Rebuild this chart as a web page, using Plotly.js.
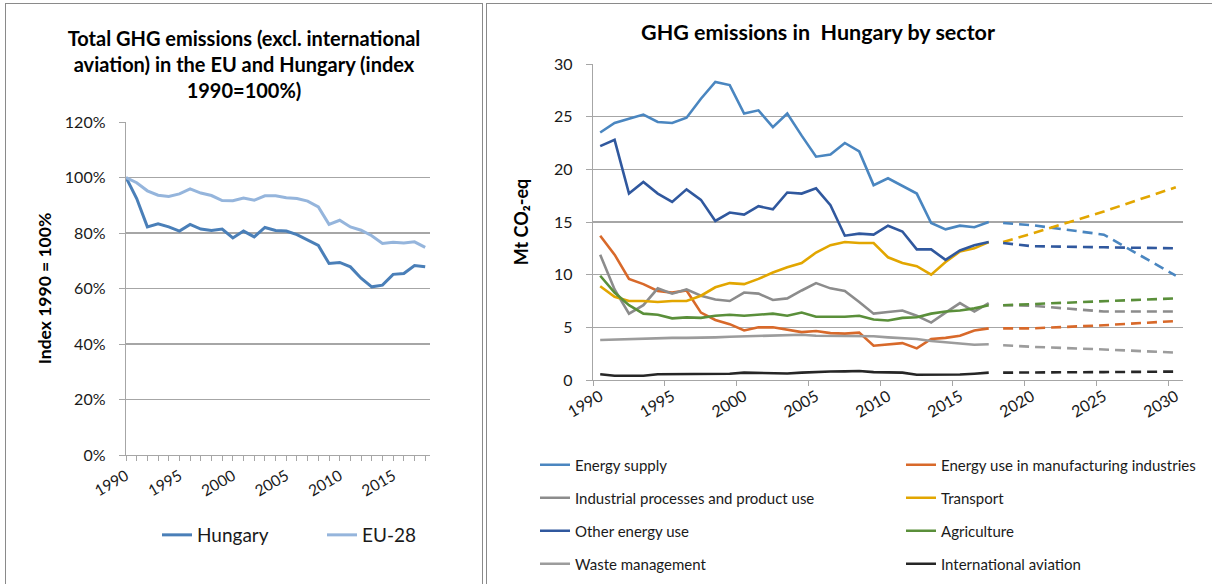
<!DOCTYPE html>
<html>
<head>
<meta charset="utf-8">
<script src="https://cdn.plot.ly/plotly-3.0.1.min.js"></script>
<style>
  html, body { margin: 0; padding: 0; background: #ffffff; width: 1212px; height: 584px; overflow: hidden; }
  #left { position: absolute; left: 5px; top: 3px; width: 476px; height: 600px; border: 1px solid #8a8a8a; }
  #right { position: absolute; left: 486px; top: 3px; width: 730px; height: 600px; border: 1px solid #8a8a8a; }
</style>
</head>
<body>
<div id="left"></div>
<div id="right"></div>
<script>
// ---------- Left chart data (index 1990 = 100%) ----------
var yearsIndex = [1990,1991,1992,1993,1994,1995,1996,1997,1998,1999,2000,2001,2002,2003,2004,2005,2006,2007,2008,2009,2010,2011,2012,2013,2014,2015,2016,2017,2018];
var hungary = [100,92.4,82.2,83.3,82.2,80.7,83.1,81.4,80.9,81.4,78.2,80.7,78.6,82.0,80.9,80.7,79.4,77.4,75.5,69.0,69.4,67.8,63.7,60.6,61.2,65.1,65.4,68.3,67.8];
var eu28 = [100,98.1,95.2,93.6,93.2,94.1,95.9,94.4,93.5,91.7,91.6,92.6,91.8,93.4,93.4,92.7,92.4,91.5,89.4,83.1,84.6,82.2,81.0,79.0,76.2,76.7,76.4,76.8,74.8];

// ---------- Right chart data (Mt CO2-eq) ----------
var yearsHist = [1990,1991,1992,1993,1994,1995,1996,1997,1998,1999,2000,2001,2002,2003,2004,2005,2006,2007,2008,2009,2010,2011,2012,2013,2014,2015,2016,2017];
var yearsProj = [2018,2020,2025,2030];
var sectorNames = ["Energy supply","Energy use in manufacturing industries","Industrial processes and product use","Transport","Other energy use","Agriculture","Waste management","International aviation"];
var energySupply = [23.5,24.4,24.8,25.2,24.5,24.4,24.9,26.7,28.3,28.0,25.3,25.6,24.0,25.3,23.2,21.2,21.4,22.5,21.7,18.5,19.15,18.4,17.7,14.9,14.3,14.65,14.5,15.0];
var manufacturing = [13.7,11.9,9.6,9.1,8.45,8.3,8.5,6.4,5.7,5.3,4.7,5.0,5.0,4.75,4.55,4.65,4.45,4.4,4.5,3.25,3.4,3.5,3.0,3.9,4.0,4.2,4.7,4.9];
var ippu = [11.9,8.6,6.3,7.1,8.7,8.2,8.6,8.0,7.65,7.5,8.3,8.2,7.6,7.75,8.5,9.2,8.7,8.45,7.4,6.3,6.45,6.6,6.1,5.45,6.4,7.3,6.5,7.3];
var transport = [8.9,7.9,7.5,7.5,7.4,7.5,7.5,8.0,8.8,9.2,9.1,9.6,10.2,10.7,11.1,12.1,12.8,13.1,13.0,13.0,11.65,11.1,10.8,10.0,11.2,12.2,12.5,13.1];
var otherEnergy = [22.2,22.8,17.7,18.8,17.7,16.9,18.1,17.1,15.1,15.9,15.7,16.5,16.2,17.8,17.7,18.2,16.6,13.7,13.9,13.8,14.65,14.1,12.4,12.4,11.4,12.3,12.8,13.1];
var agriculture = [9.9,8.3,7.1,6.3,6.2,5.85,5.95,5.9,6.1,6.2,6.1,6.2,6.3,6.1,6.4,6.0,6.0,6.0,6.1,5.75,5.65,5.9,5.95,6.3,6.5,6.6,6.8,7.1];
var waste = [3.8,3.85,3.9,3.9,3.95,4.0,4.0,4.0,4.05,4.1,4.15,4.2,4.2,4.3,4.3,4.2,4.2,4.2,4.2,4.15,4.05,3.95,3.9,3.7,3.6,3.5,3.35,3.4];
var aviation = [0.54,0.4,0.4,0.4,0.55,0.55,0.57,0.55,0.57,0.6,0.7,0.65,0.6,0.62,0.7,0.78,0.8,0.82,0.85,0.75,0.72,0.7,0.5,0.5,0.52,0.52,0.6,0.7];

var energySupplyProj = [14.9,14.7,13.8,9.9];
var manufacturingProj = [4.9,4.9,5.2,5.6];
var ippuProj = [7.1,7.05,6.5,6.5];
var transportProj = [13.1,13.9,16.0,18.3];
var otherEnergyProj = [13.0,12.7,12.6,12.5];
var agricultureProj = [7.1,7.2,7.5,7.75];
var wasteProj = [3.3,3.15,2.9,2.6];
var aviationProj = [0.7,0.7,0.75,0.8];

var xTickYears = [1990,1995,2000,2005,2010,2015,2020,2025,2030];

// ---------- Styling ----------
var FONT = "Lato, 'Open Sans', 'DejaVu Sans', sans-serif";
var GRID = "#a6a6a6";
var TXT = "#1a1a1a";

// ---------- Left chart ----------
var leftTraces = [
  {x: yearsIndex, y: hungary, name: "Hungary", type: "scatter", mode: "lines",
   line: {color: "#4a7fb8", width: 3}, legend: "legend"},
  {x: yearsIndex, y: eu28, name: "EU-28", type: "scatter", mode: "lines",
   line: {color: "#95b5dc", width: 3}, legend: "legend2"}
];
function leftLegend(x) {
  return {orientation: "h", x: x, xanchor: "left", y: (455 - 535) / 333, yanchor: "middle",
          font: {size: 19, color: TXT}, bgcolor: "rgba(0,0,0,0)"};
}
var leftLayout = {
  width: 476, height: 600,
  margin: {l: 120, r: 52, t: 118, b: 149},
  paper_bgcolor: "#ffffff", plot_bgcolor: "#ffffff",
  font: {family: FONT, color: TXT, size: 15},
  showlegend: true,
  title: {text: "Total GHG emissions (excl. international<br>aviation) in the EU and Hungary (index<br>1990=100%)",
          font: {family: FONT, size: 20, color: "#000000", weight: "bold"},
          x: 0.5, xanchor: "center", xref: "container",
          y: 1 - 42/600, yanchor: "top", yref: "container"},
  xaxis: {range: [1990, 2018.45], tick0: 1990, dtick: 5, tickmode: "linear",
          ticks: "outside", ticklen: 5, tickcolor: GRID, tickwidth: 1,
          minor: {tickmode: "linear", tick0: 1990, dtick: 1, ticks: "outside", ticklen: 5, tickcolor: GRID, showgrid: false},
          showline: true, linecolor: GRID, linewidth: 1.3, showgrid: false, zeroline: false,
          tickangle: -30, tickfont: {size: 15.5, color: TXT}, fixedrange: true},
  yaxis: {range: [0, 120], dtick: 20, tick0: 0, tickmode: "linear", ticksuffix: "%",
          ticks: "outside", ticklen: 6, tickcolor: GRID,
          showline: true, linecolor: GRID, linewidth: 1.3,
          showgrid: true, gridcolor: GRID, gridwidth: 1.3, zeroline: false,
          ticklabelstandoff: 10,
          tickfont: {size: 16, color: TXT},
          title: {text: "Index 1990 = 100%", font: {size: 17.5, color: "#000000", weight: "bold"}, standoff: 8},
          fixedrange: true},
  legend: leftLegend((157 - 126) / 304),
  legend2: leftLegend((322 - 126) / 304)
};
Plotly.newPlot("left", leftTraces, leftLayout, {displayModeBar: false, staticPlot: true});

// ---------- Right chart ----------
var colors = ["#4a86c0", "#d8692a", "#8c8c8c", "#e2a600", "#30589e", "#5a8f3a", "#9c9c9c", "#262626"];
var histSeries = [energySupply, manufacturing, ippu, transport, otherEnergy, agriculture, waste, aviation];
var projSeries = [energySupplyProj, manufacturingProj, ippuProj, transportProj, otherEnergyProj, agricultureProj, wasteProj, aviationProj];
var legendIds = ["legend", "legend2", "legend3", "legend4", "legend5", "legend6", "legend7", "legend8"];

var rightTraces = [];
for (var i = 0; i < sectorNames.length; i++) {
  rightTraces.push({x: yearsHist, y: histSeries[i], name: sectorNames[i], type: "scatter", mode: "lines",
    line: {color: colors[i], width: 2.6}, legend: legendIds[i], legendgroup: "g" + i});
}
for (var j = 0; j < sectorNames.length; j++) {
  rightTraces.push({x: yearsProj, y: projSeries[j], name: sectorNames[j] + " (projection)", type: "scatter", mode: "lines",
    line: {color: colors[j], width: 2.6, dash: "10px,6px"}, showlegend: false, legendgroup: "g" + j});
}

function cellLegend(col, row) {
  var rowsY = [465, 498, 531, 564];
  var colsX = [535, 901];
  return {orientation: "h", x: (colsX[col] - 593) / 590, xanchor: "left",
          y: (380 - rowsY[row]) / 316, yanchor: "middle",
          font: {size: 15, color: TXT}, bgcolor: "rgba(0,0,0,0)"};
}

var rightLayout = {
  width: 730, height: 600,
  margin: {l: 106, r: 34, t: 60, b: 224},
  paper_bgcolor: "#ffffff", plot_bgcolor: "#ffffff",
  font: {family: FONT, color: TXT, size: 15},
  showlegend: true,
  title: {text: "GHG emissions in\u00a0 Hungary by sector",
          font: {family: FONT, size: 21.5, color: "#000000", weight: "bold"},
          x: 331/730, xanchor: "center", xref: "container",
          y: 1 - 28/600, yanchor: "middle", yref: "container"},
  xaxis: {range: [1989.5, 2030.5], tickmode: "array", tickvals: xTickYears,
          ticktext: xTickYears.map(String), ticks: "",
          minor: {tickmode: "linear", tick0: 1989.5, dtick: 5, ticks: "outside", ticklen: 5, tickcolor: GRID, showgrid: false},
          showline: true, linecolor: GRID, linewidth: 1.3, showgrid: false, zeroline: false,
          tickangle: -30, tickfont: {size: 16, color: TXT}, fixedrange: true},
  yaxis: {range: [0, 30], dtick: 5, tick0: 0, tickmode: "linear",
          ticks: "outside", ticklen: 6, tickcolor: GRID,
          showline: true, linecolor: GRID, linewidth: 1.3,
          showgrid: true, gridcolor: GRID, gridwidth: 1.3, zeroline: false,
          ticklabelstandoff: 10,
          tickfont: {size: 16, color: TXT},
          title: {text: "Mt CO\u2082-eq", font: {size: 18, color: "#000000", weight: "bold"}, standoff: 20},
          fixedrange: true},
  legend: cellLegend(0, 0),
  legend2: cellLegend(1, 0),
  legend3: cellLegend(0, 1),
  legend4: cellLegend(1, 1),
  legend5: cellLegend(0, 2),
  legend6: cellLegend(1, 2),
  legend7: cellLegend(0, 3),
  legend8: cellLegend(1, 3)
};
Plotly.newPlot("right", rightTraces, rightLayout, {displayModeBar: false, staticPlot: true});
</script>
</body>
</html>
